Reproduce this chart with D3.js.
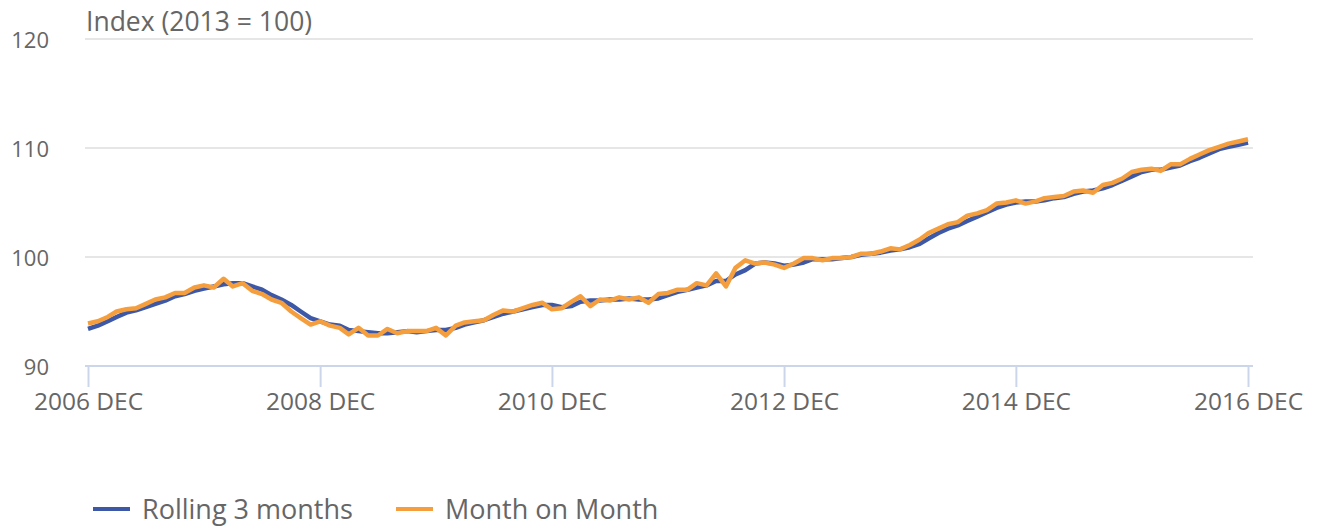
<!DOCTYPE html>
<html>
<head>
<meta charset="utf-8">
<script src="https://cdn.jsdelivr.net/npm/d3@7"></script>
<style>
  body { margin: 0; background: #fff; }
  svg { display: block; font-family: "Open Sans", sans-serif; }
</style>
</head>
<body>
<svg id="chart" width="1317" height="526"></svg>
<script>
// monthly, 2006 DEC .. 2016 DEC
const startMonth = new Date(2006, 11, 1);
const rolling3 = [
  93.4, 93.7, 94.1, 94.5, 94.9, 95.1, 95.4, 95.7, 96.0, 96.4,
  96.6, 96.9, 97.1, 97.3, 97.5, 97.6, 97.6, 97.3, 97.0, 96.5,
  96.1, 95.6, 95.0, 94.4, 94.1, 93.8, 93.7, 93.3, 93.2, 93.1,
  93.0, 93.0, 93.1, 93.2, 93.1, 93.2, 93.3, 93.3, 93.5, 93.8,
  94.0, 94.2, 94.5, 94.8, 95.0, 95.2, 95.4, 95.6, 95.6, 95.4,
  95.5, 95.9, 96.0, 96.0, 96.1, 96.1, 96.2, 96.1, 96.1, 96.2,
  96.5, 96.8, 97.0, 97.2, 97.4, 97.8, 97.8, 98.4, 98.8, 99.4,
  99.5, 99.4, 99.2, 99.3, 99.5, 99.8, 99.8, 99.8, 99.9, 100.0,
  100.2, 100.3, 100.4, 100.6, 100.7, 100.9, 101.2, 101.7, 102.2, 102.6,
  102.9, 103.3, 103.7, 104.1, 104.5, 104.8, 105.0, 105.1, 105.1, 105.2,
  105.4, 105.5, 105.8, 106.0, 106.1, 106.3, 106.6, 107.0, 107.4, 107.8,
  108.0, 108.0, 108.2, 108.4, 108.8, 109.1, 109.5, 109.9, 110.1, 110.3,
  110.5
];
const monthOnMonth = [
  93.9, 94.1, 94.5, 95.0, 95.2, 95.3, 95.7, 96.1, 96.3, 96.7,
  96.7, 97.2, 97.4, 97.2, 98.0, 97.3, 97.6, 96.9, 96.6, 96.1,
  95.8, 95.0, 94.4, 93.8, 94.1, 93.7, 93.5, 92.9, 93.5, 92.8,
  92.8, 93.4, 93.0, 93.2, 93.2, 93.2, 93.5, 92.8, 93.7, 94.0,
  94.1, 94.2, 94.7, 95.1, 95.0, 95.3, 95.6, 95.8, 95.2, 95.3,
  95.9, 96.4, 95.5, 96.1, 96.0, 96.3, 96.1, 96.3, 95.8, 96.6,
  96.7, 97.0, 97.0, 97.6, 97.4, 98.5, 97.3, 99.0, 99.7, 99.4,
  99.5, 99.3, 99.0, 99.4, 99.9, 99.9, 99.7, 99.9, 99.9, 100.0,
  100.3, 100.3, 100.5, 100.8, 100.7, 101.1, 101.6, 102.2, 102.6, 103.0,
  103.2, 103.8, 104.0, 104.3, 104.9, 105.0, 105.2, 104.9, 105.1, 105.4,
  105.5, 105.6, 106.0, 106.1, 105.9, 106.6, 106.8, 107.2, 107.8, 108.0,
  108.1, 107.9, 108.5, 108.5, 109.0, 109.4, 109.8, 110.1, 110.4, 110.6,
  110.8
];
const yTicks = [90, 100, 110, 120];
const xTickYears = [2006, 2008, 2010, 2012, 2014, 2016];
const seriesNames = ["Rolling 3 months", "Month on Month"];
const seriesColors = ["#3c58a7", "#f59e3d"];

const svg = d3.select("#chart");
const gridLeft = 85, gridRight = 1253;

const monthAt = i => new Date(startMonth.getFullYear(), startMonth.getMonth() + i, 1);
const x = d3.scaleTime()
  .domain([startMonth, monthAt(rolling3.length - 1)])
  .range([88, 1248]);
const y = d3.scaleLinear().domain([90, 120]).range([366, 39]);

// gridlines
svg.append("g").selectAll("line").data(yTicks.filter(d => d > 90)).join("line")
  .attr("x1", gridLeft).attr("x2", gridRight)
  .attr("y1", d => y(d)).attr("y2", d => y(d))
  .attr("stroke", "#e6e6e6").attr("stroke-width", 2);

// y labels
svg.append("g").selectAll("text").data(yTicks).join("text")
  .attr("x", 49).attr("y", d => y(d) + 3)
  .attr("text-anchor", "end").attr("dominant-baseline", "middle")
  .attr("fill", "#666").attr("font-size", 22)
  .text(d => d);

// x axis
const xTicks = xTickYears.map(yr => new Date(yr, 11, 1));
const xAxis = svg.append("g")
  .attr("transform", "translate(0,366)")
  .call(d3.axisBottom(x).tickValues(xTicks).tickSize(21).tickSizeOuter(0)
    .tickFormat(d => d.getFullYear() + " DEC"));
xAxis.select(".domain").attr("stroke", "#ccd6eb").attr("stroke-width", 2)
  .attr("d", `M${gridLeft},0H${gridRight}`);
xAxis.selectAll(".tick line").attr("stroke", "#ccd6eb").attr("stroke-width", 2);
xAxis.selectAll(".tick text")
  .attr("y", 27).attr("dy", "0.71em")
  .attr("fill", "#666").attr("font-size", 24.5)
  .attr("font-family", "Open Sans, sans-serif");

// axis title
svg.append("text")
  .attr("x", 86).attr("y", 31)
  .attr("fill", "#666").attr("font-size", 26.5)
  .text("Index (2013 = 100)");

// lines
const line = d3.line()
  .x((d, i) => x(monthAt(i)))
  .y(d => y(d));
[rolling3, monthOnMonth].forEach((s, k) => {
  svg.append("path").datum(s)
    .attr("fill", "none")
    .attr("stroke", seriesColors[k])
    .attr("stroke-width", 4.5)
    .attr("stroke-linejoin", "round")
    .attr("d", line);
});

// legend
const legendX = [93, 396];
const legend = svg.append("g").selectAll("g").data(seriesNames).join("g")
  .attr("transform", (d, i) => `translate(${legendX[i]},509)`);
legend.append("line")
  .attr("x1", 0).attr("x2", 37)
  .attr("stroke", (d, i) => seriesColors[i]).attr("stroke-width", 4);
legend.append("text")
  .attr("x", 49).attr("y", 10)
  .attr("fill", "#666").attr("font-size", 27)
  .text(d => d);
</script>
</body>
</html>
